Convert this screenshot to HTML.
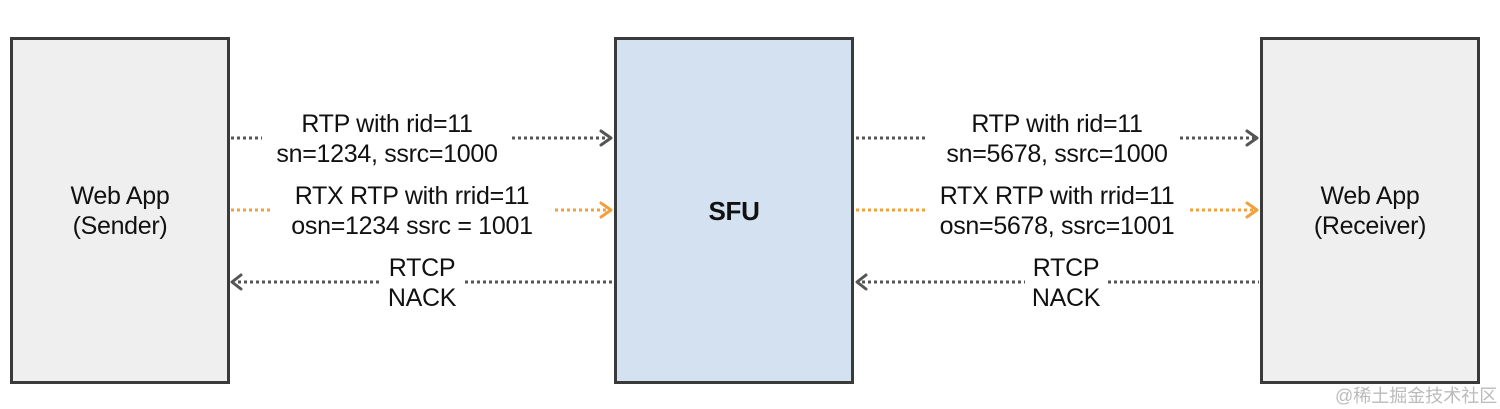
<!DOCTYPE html>
<html><head><style>
body{margin:0;width:1500px;height:409px;background:#fff;position:relative;overflow:hidden;font-family:"Liberation Sans",Arial,sans-serif;}
.box{position:absolute;box-sizing:border-box;border:3px solid #3a3a3a;}
.t{position:absolute;font-size:25px;color:#111;text-align:center;line-height:30px;white-space:nowrap;transform:translateX(-50%);letter-spacing:-0.3px;}
</style></head><body>
<div class="box" style="left:10px;top:37px;width:220px;height:347px;background:#efefef"></div>
<div class="box" style="left:614px;top:37px;width:240px;height:347px;background:#d4e1f0"></div>
<div class="box" style="left:1260px;top:37px;width:220px;height:347px;background:#efefef"></div>
<svg width="1500" height="409" style="position:absolute;left:0;top:0">
<g stroke-width="3" stroke-dasharray="3 3" fill="none">
<line x1="231" y1="138" x2="262" y2="138" stroke="#555"/>
<line x1="512" y1="138" x2="608" y2="138" stroke="#555"/>
<line x1="231" y1="210" x2="272" y2="210" stroke="#f0a03c"/>
<line x1="555" y1="210" x2="608" y2="210" stroke="#f0a03c"/>
<line x1="238" y1="282" x2="380" y2="282" stroke="#555"/>
<line x1="465" y1="282" x2="613" y2="282" stroke="#555"/>
<line x1="856" y1="138" x2="928" y2="138" stroke="#555"/>
<line x1="1180" y1="138" x2="1254" y2="138" stroke="#555"/>
<line x1="856" y1="210" x2="925" y2="210" stroke="#f0a03c"/>
<line x1="1190" y1="210" x2="1254" y2="210" stroke="#f0a03c"/>
<line x1="862" y1="282" x2="1025" y2="282" stroke="#555"/>
<line x1="1108" y1="282" x2="1259" y2="282" stroke="#555"/>
</g>
<g stroke-width="3" fill="none" stroke-linecap="round" stroke-linejoin="round">
<polyline points="601,131 611,138 601,145" stroke="#555"/>
<polyline points="601,203 611,210 601,217" stroke="#f0a03c"/>
<polyline points="241,275 232,282 241,289" stroke="#555"/>
<polyline points="1247,131 1257,138 1247,145" stroke="#555"/>
<polyline points="1247,203 1257,210 1247,217" stroke="#f0a03c"/>
<polyline points="866,275 857,282 866,289" stroke="#555"/>
</g>
</svg>
<div class="t" style="left:120px;top:181px">Web App<br>(Sender)</div>
<div class="t" style="left:734px;top:196px;font-weight:bold;font-size:26px">SFU</div>
<div class="t" style="left:1370px;top:181px">Web App<br>(Receiver)</div>
<div class="t" style="left:387px;top:109px">RTP with rid=11<br>sn=1234, ssrc=1000</div>
<div class="t" style="left:412px;top:181px">RTX RTP with rrid=11<br>osn=1234 ssrc = 1001</div>
<div class="t" style="left:422px;top:253px">RTCP<br>NACK</div>
<div class="t" style="left:1057px;top:109px">RTP with rid=11<br>sn=5678, ssrc=1000</div>
<div class="t" style="left:1057px;top:181px">RTX RTP with rrid=11<br>osn=5678, ssrc=1001</div>
<div class="t" style="left:1066px;top:253px">RTCP<br>NACK</div>
<div style="position:absolute;left:1335px;top:382px;font-size:18px;color:#bbb;font-family:'Liberation Sans','Noto Sans CJK SC',sans-serif">@稀土掘金技术社区</div>
</body></html>
